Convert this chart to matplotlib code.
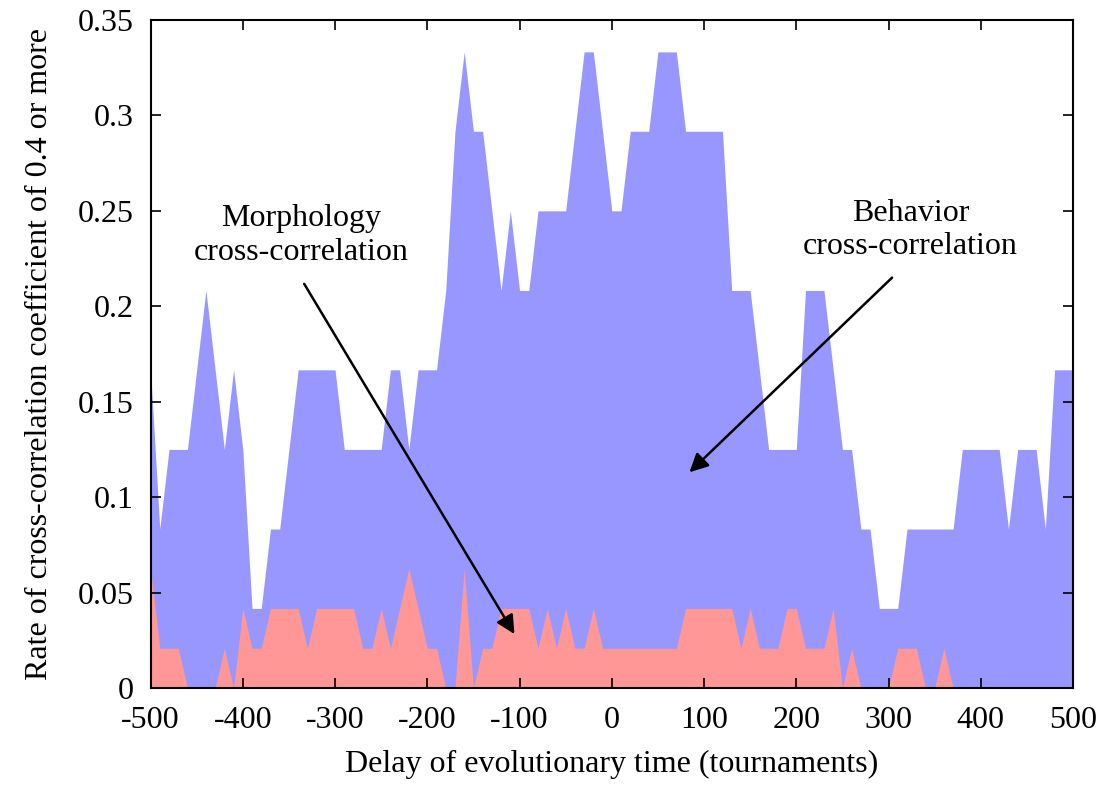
import numpy as np
import matplotlib
matplotlib.use('Agg')
import matplotlib.pyplot as plt

plt.rcParams['font.family'] = ['Liberation Serif', 'DejaVu Serif']
plt.rcParams['axes.unicode_minus'] = False

# data: delay (tournaments) and rate of cross-correlation >= 0.4
delay = list(range(-500, 501, 10))

behavior = [
    0.1667, 0.0833, 0.125, 0.125, 0.125, 0.1667, 0.2083, 0.1667, 0.125, 0.1667,   # -500..-410
    0.125, 0.0417, 0.0417, 0.0833, 0.0833, 0.125, 0.1667, 0.1667, 0.1667, 0.1667,  # -400..-310
    0.1667, 0.125, 0.125, 0.125, 0.125, 0.125, 0.1667, 0.1667, 0.125, 0.1667,      # -300..-210
    0.1667, 0.1667, 0.2083, 0.2917, 0.3333, 0.2917, 0.2917, 0.25, 0.2083, 0.25,    # -200..-110
    0.2083, 0.2083, 0.25, 0.25, 0.25, 0.25, 0.2917, 0.3333, 0.3333, 0.2917,        # -100..-10
    0.25, 0.25, 0.2917, 0.2917, 0.2917, 0.3333, 0.3333, 0.3333, 0.2917, 0.2917,    # 0..90
    0.2917, 0.2917, 0.2917, 0.2083, 0.2083, 0.2083, 0.1667, 0.125, 0.125, 0.125,   # 100..190
    0.125, 0.2083, 0.2083, 0.2083, 0.1667, 0.125, 0.125, 0.0833, 0.0833, 0.0417,   # 200..290
    0.0417, 0.0417, 0.0833, 0.0833, 0.0833, 0.0833, 0.0833, 0.0833, 0.125, 0.125,  # 300..390
    0.125, 0.125, 0.125, 0.0833, 0.125, 0.125, 0.125, 0.0833, 0.1667, 0.1667,      # 400..490
    0.1667,                                                                         # 500
]

morphology = [
    0.0625, 0.0208, 0.0208, 0.0208, 0, 0, 0, 0, 0.0208, 0,                          # -500..-410
    0.0417, 0.0208, 0.0208, 0.0417, 0.0417, 0.0417, 0.0417, 0.0208, 0.0417, 0.0417, # -400..-310
    0.0417, 0.0417, 0.0417, 0.0208, 0.0208, 0.0417, 0.0208, 0.0417, 0.0625, 0.0417, # -300..-210
    0.0208, 0.0208, 0, 0, 0.0625, 0, 0.0208, 0.0208, 0.0417, 0.0417,               # -200..-110
    0.0417, 0.0417, 0.0208, 0.0417, 0.0208, 0.0417, 0.0208, 0.0208, 0.0417, 0.0208, # -100..-10
    0.0208, 0.0208, 0.0208, 0.0208, 0.0208, 0.0208, 0.0208, 0.0208, 0.0417, 0.0417, # 0..90
    0.0417, 0.0417, 0.0417, 0.0417, 0.0208, 0.0417, 0.0208, 0.0208, 0.0208, 0.0417, # 100..190
    0.0417, 0.0208, 0.0208, 0.0208, 0.0417, 0, 0.0208, 0, 0, 0,                     # 200..290
    0, 0.0208, 0.0208, 0.0208, 0, 0, 0.0208, 0, 0, 0,                               # 300..390
    0, 0, 0, 0, 0, 0, 0, 0, 0, 0,                                                   # 400..490
    0,                                                                              # 500
]

xticks = list(range(-500, 501, 100))
yticks = [0, 0.05, 0.1, 0.15, 0.2, 0.25, 0.3, 0.35]
ytick_labels = ['0', '0.05', '0.1', '0.15', '0.2', '0.25', '0.3', '0.35']

fig = plt.figure(figsize=(11.07, 7.87), dpi=100)
ax = fig.add_axes([0.136, 0.1258, 0.8333, 0.8488])

ax.fill_between(delay, 0, behavior, color='#9797ff', linewidth=0)
ax.fill_between(delay, 0, morphology, color='#ff9797', linewidth=0)

ax.set_xlim(-500, 500)
ax.set_ylim(0, 0.35)
ax.set_xticks(xticks)
ax.set_xticklabels([str(t) for t in xticks])
ax.set_yticks(yticks)
ax.set_yticklabels(ytick_labels)
ax.tick_params(direction='in', length=7, width=1.2, top=True, right=True,
               labelsize=23)
ax.tick_params(axis='x', pad=13)
ax.tick_params(axis='y', pad=12)
for s in ax.spines.values():
    s.set_linewidth(1.5)

ax.set_xlabel('Delay of evolutionary time (tournaments)', fontsize=23, labelpad=11)
ax.set_ylabel('Rate of cross-correlation coefficient of 0.4 or more', fontsize=23, labelpad=17)

ax.text(-337, 0.237, 'Morphology\ncross-correlation', fontsize=23,
        ha='center', va='center', linespacing=1.2)
ax.annotate('', xy=(-104, 0.027), xytext=(-335, 0.213),
            arrowprops=dict(arrowstyle='-|>', color='black', lw=1.8, mutation_scale=28))

ax.text(324, 0.24, 'Behavior\ncross-correlation', fontsize=23,
        ha='center', va='center', linespacing=1.2)
ax.annotate('', xy=(82, 0.112), xytext=(306, 0.216),
            arrowprops=dict(arrowstyle='-|>', color='black', lw=1.8, mutation_scale=28))

plt.savefig('out.png', dpi=100)
